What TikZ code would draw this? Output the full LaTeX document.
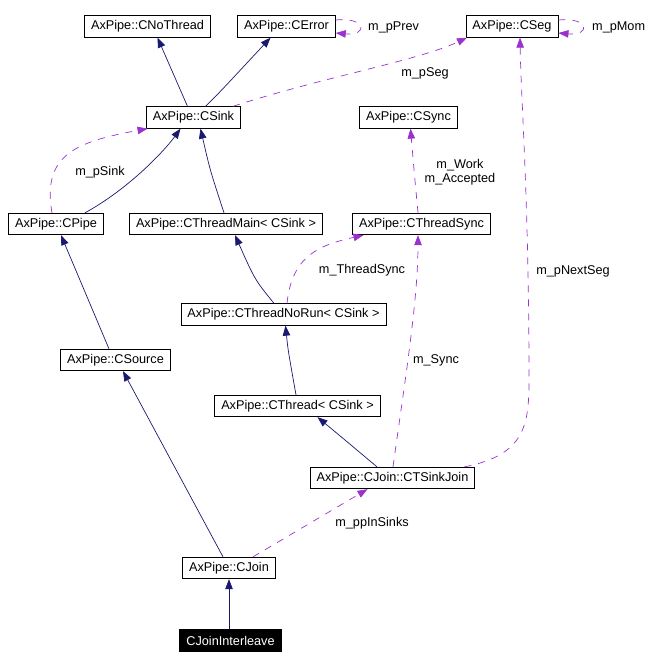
\documentclass[tikz,border=0pt]{standalone}
\usepackage{fontspec}
\usepackage{tikz}
\usetikzlibrary{arrows.meta}
\newfontfamily\dxfont{Liberation Sans}
\definecolor{navy}{HTML}{191970}
\definecolor{orchid}{HTML}{9A32CD}
\tikzset{
  cls/.style={
    draw=black,fill=white,line width=.8pt,
    minimum height=21.5pt,inner xsep=6.5pt,inner ysep=0pt,
    font=\dxfont\fontsize{12.7}{14.5}\selectfont
  },
  thiscls/.style={cls,fill=black,text=white},
  lbl/.style={font=\dxfont\fontsize{12.7}{14.5}\selectfont,align=center,inner sep=0pt},
  inh/.style={-{Triangle[length=10pt,width=7.5pt]},draw=navy,line width=.7pt},
  collab/.style={-{Triangle[length=10pt,width=7.5pt]},draw=orchid,line width=.7pt,
    dash pattern=on 7pt off 7pt}
}
\begin{document}
\begin{tikzpicture}[x=1pt,y=-1pt]
\useasboundingbox (0,0) rectangle (655,668);
% classes
\node[cls] (nothread) at (147.5,26.5) {AxPipe::CNoThread};
\node[cls] (error) at (286.5,26.5) {AxPipe::CError};
\node[cls] (seg) at (512,26.5) {AxPipe::CSeg};
\node[cls] (sink) at (193.5,117.5) {AxPipe::CSink};
\node[cls] (sync) at (408.5,117.5) {AxPipe::CSync};
\node[cls] (pipe) at (56,224) {AxPipe::CPipe};
\node[cls] (tmain) at (226,224) {AxPipe::CThreadMain< CSink >};
\node[cls] (tsync) at (421.5,224) {AxPipe::CThreadSync};
\node[cls] (norun) at (283.5,314.5) {AxPipe::CThreadNoRun< CSink >};
\node[cls] (source) at (115.5,360) {AxPipe::CSource};
\node[cls] (thread) at (297.5,406) {AxPipe::CThread< CSink >};
\node[cls] (tsj) at (392.5,478) {AxPipe::CJoin::CTSinkJoin};
\node[cls] (join) at (229,568) {AxPipe::CJoin};
\node[thiscls] (inter) at (230.5,640.5) {CJoinInterleave};
% inheritance
\draw[inh] ([xshift=-6pt]sink.north) -- ([xshift=10pt]nothread.south);
\draw[inh] ([xshift=12pt]sink.north) .. controls (220,92) .. ([xshift=-16pt]error.south);
\draw[inh] ([xshift=29pt]pipe.north) .. controls (130,188) and (165,150) .. ([xshift=-13pt]sink.south);
\draw[inh] ([xshift=-2pt]tmain.north) .. controls (210,170) .. ([xshift=7pt]sink.south);
\draw[inh] ([xshift=-6.5pt]source.north) -- ([xshift=5pt]pipe.south);
\draw[inh] ([xshift=-9.5pt]norun.north) .. controls (255,280) .. ([xshift=9pt]tmain.south);
\draw[inh] ([xshift=-1.5pt]thread.north) .. controls (288,350) .. ([xshift=2pt]norun.south);
\draw[inh] ([xshift=-15.5pt]tsj.north) .. controls (345,440) .. ([xshift=20pt]thread.south);
\draw[inh] ([xshift=-6pt]join.north) -- ([xshift=7.5pt]source.south);
\draw[inh] ([xshift=-1.5pt]inter.north) -- (join.south);
% collaboration
\draw[collab] ([xshift=39.5pt]sink.north) .. controls (320,78) and (420,60) .. ([xshift=-45pt]seg.south);
\node[lbl] (lseg) at (425,73) {m\_pSeg};
\draw[collab] ([yshift=6.5pt]error.east) .. controls +(32,-3) and +(32,3) .. ([yshift=-6.5pt]error.east);
\node[lbl,anchor=west] (lprev) at (368,27) {m\_pPrev};
\draw[collab] ([yshift=6.5pt]seg.east) .. controls +(32,-3) and +(32,3) .. ([yshift=-6.5pt]seg.east);
\node[lbl,anchor=west] (lmom) at (592,27) {m\_pMom};
\draw[collab] ([xshift=-4pt]pipe.north) .. controls (42,155) and (75,142) .. ([xshift=-46pt]sink.south);
\node[lbl] (lsink) at (100,172) {m\_pSink};
\draw[collab] ([xshift=-3.5pt]tsync.north) .. controls (414,170) .. ([xshift=2pt]sync.south);
\node[lbl] (lwork) at (460,172) {m\_Work\\m\_Accepted};
\draw[collab] ([xshift=3.5pt]norun.north) .. controls (292,255) and (320,245) .. ([xshift=-58pt]tsync.south);
\node[lbl] (lts) at (362,270) {m\_ThreadSync};
\draw[collab] ([xshift=0.5pt]tsj.north) .. controls (405,380) and (418,300) .. ([xshift=-3.5pt]tsync.south);
\node[lbl] (lsync) at (436,360) {m\_Sync};
\draw[collab] ([xshift=72pt]tsj.north) .. controls (525,455) and (529,425) .. (529,380)
  .. controls (529,200) and (521,100) .. ([xshift=8pt]seg.south);
\node[lbl] (lnext) at (573,271) {m\_pNextSeg};
\draw[collab] ([xshift=24pt]join.north) -- ([xshift=-25pt]tsj.south);
\node[lbl] (lin) at (372,523) {m\_ppInSinks};
\end{tikzpicture}
\end{document}
